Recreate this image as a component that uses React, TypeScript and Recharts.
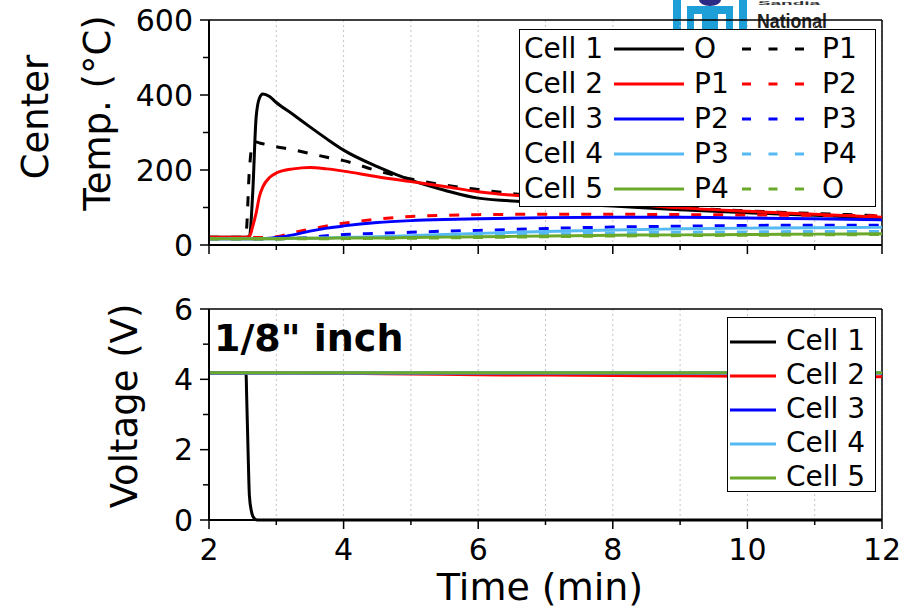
import React from "react";
import {
  LineChart,
  Line,
  XAxis,
  YAxis,
  CartesianGrid,
  ReferenceLine,
  Legend,
} from "recharts";

const FONT = "'DejaVu Sans', 'Liberation Sans', sans-serif";

// time axis shared by the thermocouple traces (min)
const tempTime = [
  2, 2.5, 2.55, 2.6, 2.65, 2.7, 2.75, 2.8, 2.9, 3.0, 3.25, 3.5, 3.75, 4.0, 4.5,
  5.0, 5.5, 6.0, 7.0, 8.0, 9.0, 10.0, 11.0, 12.0,
];

// center temperatures (°C)
const cell1O = [21, 21, 21, 22, 140, 340, 392, 403, 396, 380, 348, 315, 283, 253, 209, 173, 146, 125, 113, 104, 94, 86, 79, 72];
const cell1P1 = [21, 21, 30, 200, 272, 275, 272, 270, 266, 262, 254, 244, 234, 225, 198, 176, 160, 148, 128, 112, 100, 91, 84, 78];
const cell2P1 = [21, 21, 21, 23, 50, 85, 130, 155, 180, 192, 203, 207, 203, 197, 182, 169, 156, 142, 126, 113, 99, 90, 82, 74];
const cell2P2 = [20, 20, 20, 20, 20, 20, 20, 20, 21, 22, 33, 42, 51, 58, 69, 76, 79, 81, 82, 82, 81, 80, 79, 78];
const cell3P2 = [17, 17, 17, 17, 17, 17, 17, 17, 18, 20, 27, 37, 45, 51, 60, 65, 68, 70, 73, 74, 74, 72, 70, 67];
const cell3P3 = [17, 17, 17, 17, 17, 17, 17, 17, 17, 17, 18, 20, 25, 28, 31, 34, 37, 39, 44, 48, 50, 52, 53, 53];
const cell4P3 = [17, 17, 17, 17, 17, 17, 17, 17, 17, 17, 18, 18, 19, 20, 22, 25, 28, 31, 36, 40, 43, 45, 46, 47];
const cell4P4 = [17, 17, 17, 17, 17, 17, 17, 17, 17, 17, 17, 18, 18, 19, 20, 21, 23, 25, 29, 32, 34, 35, 36, 36];
const cell5P4 = [17, 17, 17, 17, 17, 17, 17, 17, 17, 17, 18, 18, 18, 19, 19, 20, 21, 22, 24, 26, 27, 28, 29, 30];
const cell5O = [16, 16, 16, 16, 16, 16, 16, 16, 16, 16, 17, 17, 17, 17, 18, 18, 19, 20, 22, 24, 25, 26, 27, 28];

// voltage traces (V)
const voltTime = [2, 2.55, 2.56, 2.58, 2.6, 2.63, 2.67, 2.72, 3, 4, 5, 6, 7, 8, 9, 10, 11, 12];
const cell1V = [4.18, 4.18, 3.5, 2.0, 0.7, 0.25, 0.05, 0, 0, 0, 0, 0, 0, 0, 0, 0, 0, 0];
const cell2V = [4.18, 4.18, 4.18, 4.18, 4.18, 4.18, 4.18, 4.18, 4.18, 4.17, 4.15, 4.13, 4.12, 4.11, 4.1, 4.09, 4.08, 4.07];
const cell3V = [4.18, 4.18, 4.18, 4.18, 4.18, 4.18, 4.18, 4.18, 4.18, 4.18, 4.18, 4.18, 4.18, 4.18, 4.18, 4.18, 4.18, 4.18];
const cell4V = [4.18, 4.18, 4.18, 4.18, 4.18, 4.18, 4.18, 4.18, 4.18, 4.18, 4.18, 4.18, 4.18, 4.18, 4.18, 4.18, 4.18, 4.18];
const cell5V = [4.19, 4.19, 4.19, 4.19, 4.19, 4.19, 4.19, 4.19, 4.19, 4.19, 4.19, 4.19, 4.19, 4.19, 4.19, 4.19, 4.19, 4.19];

const cellNames = ["Cell 1", "Cell 2", "Cell 3", "Cell 4", "Cell 5"];
const cellColors = ["#000000", "#ff0000", "#0000ff", "#55b9f3", "#6ba92a"];
const solidLabels = ["O", "P1", "P2", "P3", "P4"];
const dashedLabels = ["P1", "P2", "P3", "P4", "O"];

const timeTicks = [2, 3, 4, 5, 6, 7, 8, 9, 10, 11, 12];
const tempTicks = [0, 100, 200, 300, 400, 500, 600];
const voltTicks = [0, 1, 2, 3, 4, 5, 6];

const tempSeries = [
  { key: "c1o", color: cellColors[0], dashed: false, values: cell1O },
  { key: "c1p1", color: cellColors[0], dashed: true, values: cell1P1 },
  { key: "c2p1", color: cellColors[1], dashed: false, values: cell2P1 },
  { key: "c2p2", color: cellColors[1], dashed: true, values: cell2P2 },
  { key: "c3p2", color: cellColors[2], dashed: false, values: cell3P2 },
  { key: "c3p3", color: cellColors[2], dashed: true, values: cell3P3 },
  { key: "c4p3", color: cellColors[3], dashed: false, values: cell4P3 },
  { key: "c4p4", color: cellColors[3], dashed: true, values: cell4P4 },
  { key: "c5p4", color: cellColors[4], dashed: false, values: cell5P4 },
  { key: "c5o", color: cellColors[4], dashed: true, values: cell5O },
];

const voltSeries = [
  { key: "v1", color: cellColors[0], values: cell1V },
  { key: "v2", color: cellColors[1], values: cell2V },
  { key: "v3", color: cellColors[2], values: cell3V },
  { key: "v4", color: cellColors[3], values: cell4V },
  { key: "v5", color: cellColors[4], values: cell5V },
];

const tempData = tempTime.map((t, i) => {
  const row: Record<string, number> = { t };
  tempSeries.forEach((s) => (row[s.key] = s.values[i]));
  return row;
});

const voltData = voltTime.map((t, i) => {
  const row: Record<string, number> = { t };
  voltSeries.forEach((s) => (row[s.key] = s.values[i]));
  return row;
});

function TimeTick(props: any) {
  const { x, y, payload, showLabel } = props;
  const major = payload.value % 2 === 0;
  return (
    <g>
      <line x1={x} x2={x} y1={y} y2={y + (major ? 9 : 5)} stroke="#000" strokeWidth={1.5} />
      {showLabel && major ? (
        <text x={x} y={y + 40} textAnchor="middle" fontFamily={FONT} fontSize={30} fill="#000">
          {payload.value}
        </text>
      ) : null}
    </g>
  );
}

function ValueTick(props: any) {
  const { x, y, payload, step } = props;
  const major = payload.value % step === 0;
  return (
    <g>
      <line x1={x} x2={x - (major ? 9 : 6)} y1={y} y2={y} stroke="#000" strokeWidth={1.5} />
      {major ? (
        <text x={x - 16} y={y} dy="0.36em" textAnchor="end" fontFamily={FONT} fontSize={30} fill="#000">
          {payload.value}
        </text>
      ) : null}
    </g>
  );
}

const tempTitle = () => (
  <g fontFamily={FONT} fontSize={37} fill="#000">
    <text transform="translate(48, 117) rotate(-90)" textAnchor="middle">
      Center
    </text>
    <text transform="translate(110, 113) rotate(-90)" textAnchor="middle">
      Temp. (°C)
    </text>
  </g>
);

const voltTitle = () => (
  <text
    transform="translate(137, 146) rotate(-90)"
    textAnchor="middle"
    fontFamily={FONT}
    fontSize={37}
    fill="#000"
  >
    Voltage (V)
  </text>
);

const timeTitle = () => (
  <text x={540} y={340} textAnchor="middle" fontFamily={FONT} fontSize={38} fill="#000">
    Time (min)
  </text>
);

function Sample({ color, dashed, width }: { color: string; dashed?: boolean; width: number }) {
  return (
    <svg width={width} height={6} style={{ position: "absolute", top: 14.5, display: "block" }}>
      <line
        x1={0}
        x2={width}
        y1={3}
        y2={3}
        stroke={color}
        strokeWidth={3}
        strokeDasharray={dashed ? "9 17.5" : undefined}
      />
    </svg>
  );
}

const legendBox: React.CSSProperties = {
  boxSizing: "border-box",
  border: "1.5px solid #000",
  background: "#fff",
  fontFamily: FONT,
  fontSize: 28,
  color: "#000",
};

function TempLegend() {
  return (
    <div style={{ ...legendBox, width: 357, height: 178, paddingTop: 1 }}>
      {cellNames.map((name, i) => (
        <div key={name} style={{ position: "relative", height: 35, lineHeight: "35px" }}>
          <span style={{ position: "absolute", left: 4 }}>{name}</span>
          <div style={{ position: "absolute", left: 94 }}>
            <Sample color={cellColors[i]} width={70} />
          </div>
          <span style={{ position: "absolute", left: 174 }}>{solidLabels[i]}</span>
          <div style={{ position: "absolute", left: 222 }}>
            <Sample color={cellColors[i]} dashed width={62} />
          </div>
          <span style={{ position: "absolute", left: 302 }}>{dashedLabels[i]}</span>
        </div>
      ))}
    </div>
  );
}

function VoltLegend() {
  return (
    <div style={{ ...legendBox, width: 149, height: 175, paddingTop: 6 }}>
      {cellNames.map((name, i) => (
        <div key={name} style={{ position: "relative", height: 34, lineHeight: "34px" }}>
          <div style={{ position: "absolute", left: 2 }}>
            <Sample color={cellColors[i]} width={46} />
          </div>
          <span style={{ position: "absolute", left: 58 }}>{name}</span>
        </div>
      ))}
    </div>
  );
}

function Logo() {
  return (
    <svg width={906} height={40} style={{ position: "absolute", left: 0, top: 0 }}>
      <rect x={673} y={0} width={74} height={30} fill="#1e9fd8" />
      <rect x={681} y={0} width={58} height={30} fill="#ffffff" />
      <rect x={687} y={6} width={46} height={24} fill="#1e9fd8" />
      <rect x={694} y={14} width={8} height={16} fill="#ffffff" />
      <rect x={718} y={14} width={8} height={16} fill="#ffffff" />
      <ellipse cx={710} cy={0} rx={11} ry={6} fill="#2b2a85" />
      <text x={758} y={5} fontFamily="'Liberation Sans', sans-serif" fontWeight="bold" fontSize={6} fill="#333" textLength={62} lengthAdjust="spacingAndGlyphs">
        Sandia
      </text>
      <text x={757} y={28} fontFamily="'Liberation Sans', sans-serif" fontWeight="bold" fontSize={21} fill="#222" textLength={70} lengthAdjust="spacingAndGlyphs">
        National
      </text>
    </svg>
  );
}

export default function App() {
  const axisLine = { stroke: "#000", strokeWidth: 2 };
  return (
    <div
      style={{
        position: "absolute",
        left: 0,
        top: 0,
        width: 906,
        height: 610,
        background: "#fff",
        overflow: "hidden",
      }}
    >
      <Logo />

      <div style={{ position: "absolute", left: 0, top: 0 }}>
        <LineChart
          width={906}
          height={290}
          data={tempData}
          margin={{ top: 20, right: 24, left: 109, bottom: 15 }}
        >
          <CartesianGrid horizontal={false} stroke="#c4c4c4" strokeDasharray="2 3" />
          <XAxis
            dataKey="t"
            type="number"
            domain={[2, 12]}
            ticks={timeTicks}
            interval={0}
            height={30}
            tickSize={0}
            tickMargin={0}
            tickLine={false}
            axisLine={axisLine}
            tick={<TimeTick showLabel={false} />}
          />
          <YAxis
            type="number"
            domain={[0, 600]}
            ticks={tempTicks}
            interval={0}
            width={100}
            tickSize={0}
            tickMargin={0}
            tickLine={false}
            axisLine={axisLine}
            tick={<ValueTick step={200} />}
            label={tempTitle}
          />
          <ReferenceLine y={600} stroke="#000" strokeWidth={1.5} />
          <ReferenceLine x={12} stroke="#000" strokeWidth={1.5} />
          {tempSeries.map((s) => (
            <Line
              key={s.key}
              dataKey={s.key}
              type="monotone"
              stroke={s.color}
              strokeWidth={3}
              strokeDasharray={s.dashed ? "10 12" : undefined}
              dot={false}
              activeDot={false}
              isAnimationActive={false}
            />
          ))}
          <Legend
            layout="vertical"
            align="center"
            verticalAlign="middle"
            width={357}
            height={178}
            wrapperStyle={{ left: 519, top: 29 }}
            content={() => <TempLegend />}
          />
        </LineChart>
      </div>

      <div style={{ position: "absolute", left: 0, top: 260 }}>
        <LineChart
          width={906}
          height={350}
          data={voltData}
          margin={{ top: 49, right: 24, left: 109, bottom: 30 }}
        >
          <CartesianGrid horizontal={false} stroke="#c4c4c4" strokeDasharray="2 3" />
          <XAxis
            dataKey="t"
            type="number"
            domain={[2, 12]}
            ticks={timeTicks}
            interval={0}
            height={60}
            tickSize={0}
            tickMargin={0}
            tickLine={false}
            axisLine={axisLine}
            tick={<TimeTick showLabel />}
            label={timeTitle}
          />
          <YAxis
            type="number"
            domain={[0, 6]}
            ticks={voltTicks}
            interval={0}
            width={100}
            tickSize={0}
            tickMargin={0}
            tickLine={false}
            axisLine={axisLine}
            tick={<ValueTick step={2} />}
            label={voltTitle}
          />
          <ReferenceLine y={6} stroke="#000" strokeWidth={1.5} />
          <ReferenceLine x={12} stroke="#000" strokeWidth={1.5} />
          {voltSeries.map((s) => (
            <Line
              key={s.key}
              dataKey={s.key}
              type="monotone"
              stroke={s.color}
              strokeWidth={3}
              dot={false}
              activeDot={false}
              isAnimationActive={false}
            />
          ))}
          <Legend
            layout="vertical"
            align="center"
            verticalAlign="middle"
            width={149}
            height={175}
            wrapperStyle={{ left: 727, top: 57 }}
            content={() => <VoltLegend />}
          />
        </LineChart>
      </div>

      <svg width={906} height={610} style={{ position: "absolute", left: 0, top: 0, pointerEvents: "none" }}>
        <text x={214} y={351} fontFamily="'DejaVu Sans', sans-serif" fontWeight="bold" fontSize={38} fill="#000">
          1/8" inch
        </text>
      </svg>
    </div>
  );
}
